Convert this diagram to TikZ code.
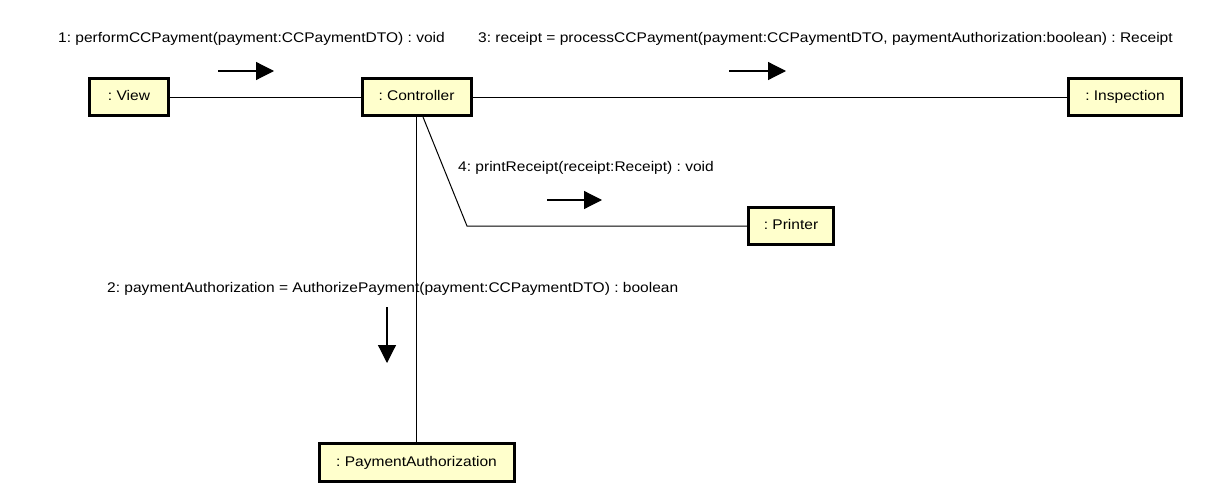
\documentclass[tikz,border=0pt]{standalone}
\usepackage{fontspec}
\setmainfont[FakeStretch=1.11]{Liberation Sans}
\usetikzlibrary{arrows.meta}
\definecolor{boxfill}{HTML}{FFFFCC}
\begin{document}
\frenchspacing
\begin{tikzpicture}[x=1pt,y=-1pt,
  obj/.style={draw, line width=3pt, fill=boxfill, minimum height=37pt, inner sep=0pt,
    text height=10pt, text depth=3pt, font=\fontsize{14}{16}\selectfont},
  lbl/.style={anchor=base west, inner sep=0pt, font=\fontsize{14}{16}\selectfont},
  msg/.style={-{Triangle[length=18pt,width=18pt]}, line width=1.2pt},
  conn/.style={line width=1pt}]
\useasboundingbox[fill=white] (0,0) rectangle (1205,487);
% objects
\node[obj, minimum width=79pt] (view) at (129,97) {: View};
\node[obj, minimum width=109pt] (ctrl) at (416.5,97) {: Controller};
\node[obj, minimum width=113pt] (insp) at (1125,97) {: Inspection};
\node[obj, minimum width=85pt] (prn) at (791,226) {: Printer};
\node[obj, minimum width=195pt, minimum height=38pt] (pa) at (416.5,462.5) {: PaymentAuthorization};
% links
\draw[conn] (view) -- (ctrl);
\draw[conn] (ctrl) -- (insp);
\draw[conn] (ctrl.south) -- (pa.north);
\coordinate (bend) at (467,226);
\draw[conn] ([xshift=6.5pt]ctrl.south) -- (bend) -- (prn.west);
% message labels
\node[lbl] (l1) at (58,42.5) {1: performCCPayment(payment:CCPaymentDTO) : void};
\node[lbl] (l3) at (478,43) {3: receipt = processCCPayment(payment:CCPaymentDTO, paymentAuthorization:boolean) : Receipt};
\node[lbl] (l4) at (458,171.5) {4: printReceipt(receipt:Receipt) : void};
\node[lbl] (l2) at (107,292.5) {2: paymentAuthorization = AuthorizePayment(payment:CCPaymentDTO) : boolean};
% message arrows
\coordinate (a1s) at (218,71); \coordinate (a1e) at (274,71);
\draw[msg] (a1s) -- (a1e);
\coordinate (a3s) at (729,71); \coordinate (a3e) at (786,71);
\draw[msg] (a3s) -- (a3e);
\coordinate (a4s) at (547,200); \coordinate (a4e) at (602,200);
\draw[msg] (a4s) -- (a4e);
\coordinate (a2s) at (387,307); \coordinate (a2e) at (387,363);
\draw[msg] (a2s) -- (a2e);
\end{tikzpicture}
\end{document}
